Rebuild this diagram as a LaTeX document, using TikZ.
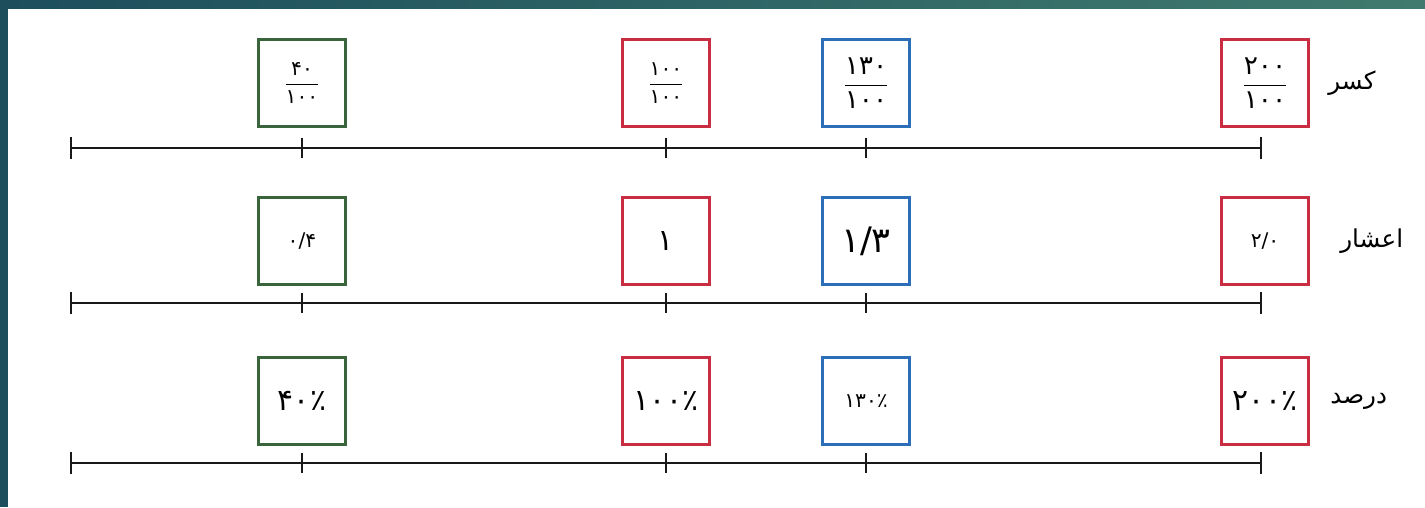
\documentclass[tikz,border=0pt]{standalone}
\usepackage{fontspec}
\usepackage{xcolor}
\usepackage{tikz}
\usetikzlibrary{
    positioning,
    calc,
    arrows.meta
}
\TeXXeTstate=1
\newfontfamily\fafont[Script=Arabic]{DejaVu Sans}
\definecolor{boxgreen}{RGB}{58,100,60}
\definecolor{boxred}{RGB}{200,45,65}
\definecolor{boxblue}{RGB}{45,110,185}
\definecolor{slideA}{RGB}{28,78,92}
\definecolor{slideB}{RGB}{64,122,110}
\newcommand{\kasr}[2]{$\displaystyle\frac{\hbox{\fafont #1}}{\hbox{\fafont #2}}$}
\tikzset{
  valbox/.style = {
      draw,
      line width=1.7pt,
      fill=white,
      minimum width=1.74cm,
      minimum height=1.74cm,
      inner sep=0pt,
      align=center,
      font=\fafont\fontsize{11.5}{13}\selectfont
  },
  hand/.style = {
      font=\fafont\fontsize{17}{20}\selectfont
  },
  bighand/.style = {
      font=\fafont\fontsize{20}{24}\selectfont
  },
  greenbox/.style = {
      valbox,
      draw=boxgreen
  },
  redbox/.style = {
      valbox,
      draw=boxred
  },
  bluebox/.style = {
      valbox,
      draw=boxblue
  },
  rowname/.style = {
      font=\fafont\fontsize{14}{17}\selectfont,
      inner sep=0pt
  },
  axis/.style = {
      line width=1.2pt,
      draw=black!90,
      {Bar[width=12pt,line width=1.4pt]}-{Bar[width=12pt,line width=1.4pt]}
  },
  tickmark/.style = {
      line width=1.4pt,
      draw=black!90
  }
}

\begin{document}
\begin{tikzpicture}[x=0.02cm, y=-0.02cm]
    \useasboundingbox (0,0) rectangle (1425,507);
    % Slide frame
    \fill[white] (0,0) rectangle (1425,507);
    \shade[left color=slideA, right color=slideB] (0,0) rectangle (1425,8);
    \fill[slideA] (0,0) rectangle (8,507);
    % Fractions
    \node[greenbox] (k1) at (302,83) {\kasr{۴۰}{۱۰۰}};
    \node[redbox] (k2) at (666,83) {\kasr{۱۰۰}{۱۰۰}};
    \node[bluebox, font=\fontsize{15}{18}\selectfont] (k3) at (866,83) {\kasr{۱۳۰}{۱۰۰}};
    \node[redbox, font=\fontsize{15}{18}\selectfont] (k4) at (1265,83) {\kasr{۲۰۰}{۱۰۰}};
    \node[rowname, right=0.36cm of k4] (kasr) {\beginR کسر\endR};
    % Decimals
    \node[greenbox, below=1.36cm of k1] (a1) {۰/۴};
    \node[redbox, hand, below=1.36cm of k2] (a2) {۱};
    \node[bluebox, bighand, below=1.36cm of k3] (a3) {۱/۳};
    \node[redbox, below=1.36cm of k4] (a4) {۲/۰};
    \node[rowname, right=0.6cm of a4] (ashar) {\beginR اعشار\endR};
    % Percents
    \node[greenbox, hand, below=1.4cm of a1] (d1) {۴۰٪};
    \node[redbox, hand, below=1.4cm of a2] (d2) {۱۰۰٪};
    \node[bluebox, below=1.4cm of a3] (d3) {۱۳۰٪};
    \node[redbox, hand, below=1.4cm of a4] (d4) {۲۰۰٪};
    \node[rowname, right=0.4cm of d4] (darsad) {\beginR درصد\endR};
    % Number lines
    \coordinate (s1) at (70,148);
    \coordinate (e1) at (1262,148);
    \coordinate (s2) at (70,303);
    \coordinate (e2) at (1262,303);
    \coordinate (s3) at (70,463);
    \coordinate (e3) at (1262,463);
    \draw[axis] (s1) -- (e1);
    \draw[axis] (s2) -- (e2);
    \draw[axis] (s3) -- (e3);
    \foreach \n in {k1,k2,k3} \draw[tickmark] ($(\n |- s1)+(0,-10)$) -- ++(0,20);
    \foreach \n in {a1,a2,a3} \draw[tickmark] ($(\n |- s2)+(0,-10)$) -- ++(0,20);
    \foreach \n in {d1,d2,d3} \draw[tickmark] ($(\n |- s3)+(0,-10)$) -- ++(0,20);
\end{tikzpicture}
\end{document}
